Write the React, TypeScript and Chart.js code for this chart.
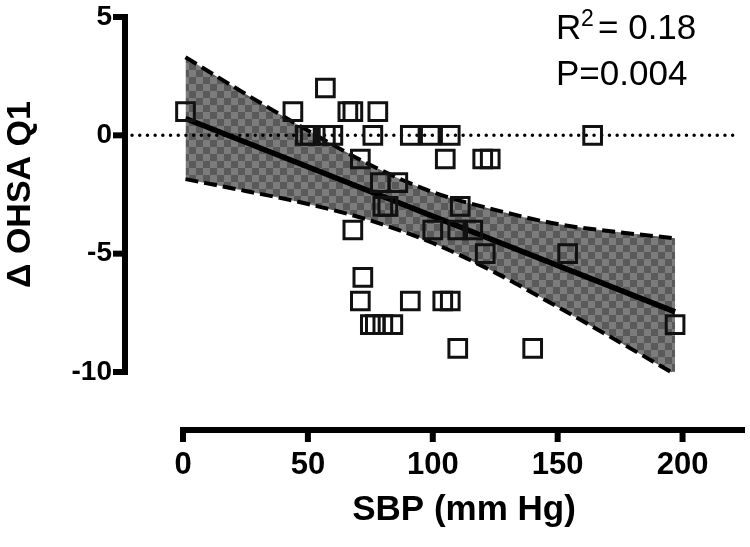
import React, { useEffect, useRef } from "react";
import { Chart, registerables } from "chart.js";

Chart.register(...registerables);

// ---- data ----
const sbpValues = [
  1, 44, 66, 68, 78,
  57,
  49, 51, 57, 60, 76, 91, 99, 107, 164,
  71, 105, 120, 123,
  79, 86,
  80, 82, 111,
  68, 100, 110, 116,
  121, 154,
  72,
  71, 91, 104, 107,
  75, 77, 80, 84, 197,
  110, 140,
];
const ohsaValues = [
  1, 1, 1, 1, 1,
  2,
  0, 0, 0, 0, 0, 0, 0, 0, 0,
  -1, -1, -1, -1,
  -2, -2,
  -3, -3, -3,
  -4, -4, -4, -4,
  -5, -5,
  -6,
  -7, -7, -7, -7,
  -8, -8, -8, -8, -8,
  -9, -9,
];

const fitX = [1, 197];
const fitY = [0.71, -7.46];

const bandX = [1, 25, 50, 75, 100, 125, 150, 175, 197];
const bandUpper = [3.3, 1.75, 0.2, -1.25, -2.4, -3.15, -3.75, -4.1, -4.35];
const bandLower = [-1.85, -2.35, -2.9, -3.6, -4.55, -5.8, -7.25, -8.75, -10.1];

const zeroLineX = [-20.4, 223];
const zeroLineY = [0, 0];

const xTicks = [0, 50, 100, 150, 200];
const yTicks = [-10, -5, 0, 5];

const xTitle = "SBP (mm Hg)";
const yTitle = "\u0394 OHSA Q1";
const r2Text = "0.18";
const pText = "P=0.004";

const FONT = "'Liberation Sans', Arial, Helvetica, sans-serif";

function makePattern(): CanvasPattern | string {
  const c = document.createElement("canvas");
  const cell = 7;
  c.width = cell * 2;
  c.height = cell * 2;
  const g = c.getContext("2d");
  if (!g) return "#6a6a6a";
  g.fillStyle = "#7c7c7c";
  g.fillRect(0, 0, cell * 2, cell * 2);
  g.fillStyle = "#5a5a5a";
  g.fillRect(0, 0, cell, cell);
  g.fillRect(cell, cell, cell, cell);
  const p = g.createPattern(c, "repeat");
  return p || "#6a6a6a";
}

const offsetAxesPlugin = {
  id: "offsetAxes",
  afterDraw(chart: any) {
    const { ctx, chartArea, scales } = chart;
    const x = scales.x;
    const y = scales.y;
    const axisX = chartArea.left - 58;
    const axisY = chartArea.bottom + 58;
    ctx.save();
    ctx.strokeStyle = "#000";
    ctx.lineCap = "butt";
    // y axis line
    ctx.lineWidth = 6;
    const yTop = y.getPixelForValue(yTicks[yTicks.length - 1]);
    const yBot = y.getPixelForValue(yTicks[0]);
    ctx.beginPath();
    ctx.moveTo(axisX, yTop - 3);
    ctx.lineTo(axisX, yBot + 3);
    ctx.stroke();
    for (const v of yTicks) {
      const py = y.getPixelForValue(v);
      ctx.beginPath();
      ctx.moveTo(axisX - 12, py);
      ctx.lineTo(axisX, py);
      ctx.stroke();
    }
    // x axis line
    const xLeft = x.getPixelForValue(xTicks[0]);
    ctx.beginPath();
    ctx.moveTo(xLeft - 3, axisY);
    ctx.lineTo(chartArea.right, axisY);
    ctx.stroke();
    for (const v of xTicks) {
      const px = x.getPixelForValue(v);
      ctx.beginPath();
      ctx.moveTo(px, axisY);
      ctx.lineTo(px, axisY + 12);
      ctx.stroke();
    }
    // statistics annotation
    ctx.fillStyle = "#000";
    ctx.textBaseline = "alphabetic";
    ctx.textAlign = "left";
    ctx.font = `35px ${FONT}`;
    ctx.fillText("R", 556, 39);
    ctx.font = `23px ${FONT}`;
    ctx.fillText("2", 581, 26);
    ctx.font = `35px ${FONT}`;
    ctx.fillText("= " + r2Text, 598, 39);
    ctx.fillText(pText, 556, 85);
    ctx.restore();
  },
};

export default function App() {
  const canvasRef = useRef<HTMLCanvasElement | null>(null);

  useEffect(() => {
    document.body.style.margin = "0";
    const canvas = canvasRef.current;
    if (!canvas) return;
    const pattern = makePattern();

    const points = sbpValues.map((v, i) => ({ x: v, y: ohsaValues[i] }));
    const fit = fitX.map((v, i) => ({ x: v, y: fitY[i] }));
    const upper = bandX.map((v, i) => ({ x: v, y: bandUpper[i] }));
    const lower = bandX.map((v, i) => ({ x: v, y: bandLower[i] }));
    const zero = zeroLineX.map((v, i) => ({ x: v, y: zeroLineY[i] }));

    const chart = new Chart(canvas, {
      type: "scatter",
      data: {
        datasets: [
          {
            label: "data",
            data: points,
            pointStyle: "rect",
            pointRadius: 12.5,
            pointHoverRadius: 12.5,
            pointBorderWidth: 3,
            borderColor: "#111",
            backgroundColor: "rgba(0,0,0,0)",
            order: 1,
            clip: false,
          } as any,
          {
            label: "fit",
            data: fit,
            showLine: true,
            borderColor: "#000",
            borderWidth: 5.5,
            pointRadius: 0,
            order: 2,
            clip: false,
          } as any,
          {
            label: "upper",
            data: upper,
            showLine: true,
            borderColor: "#000",
            borderWidth: 4,
            borderDash: [13, 6],
            pointRadius: 0,
            cubicInterpolationMode: "monotone",
            fill: "+1",
            backgroundColor: pattern,
            order: 3,
            clip: false,
          } as any,
          {
            label: "lower",
            data: lower,
            showLine: true,
            borderColor: "#000",
            borderWidth: 4,
            borderDash: [13, 6],
            pointRadius: 0,
            cubicInterpolationMode: "monotone",
            fill: false,
            order: 3,
            clip: false,
          } as any,
          {
            label: "zero",
            data: zero,
            showLine: true,
            borderColor: "#000",
            borderWidth: 3.5,
            borderDash: [0, 7.7],
            borderCapStyle: "round",
            pointRadius: 0,
            order: 4,
            clip: false,
          } as any,
        ],
      },
      options: {
        animation: false,
        responsive: false,
        devicePixelRatio: 1,
        layout: { autoPadding: false, padding: { left: 0, top: 17, right: 5, bottom: 0 } },
        plugins: {
          legend: { display: false },
          tooltip: { enabled: false },
          filler: { drawTime: "beforeDatasetsDraw" },
        } as any,
        scales: {
          x: {
            type: "linear",
            min: 0,
            max: 225,
            grid: { display: false, drawTicks: true, tickLength: 75 },
            border: { display: false },
            afterBuildTicks: (scale: any) => {
              scale.ticks = xTicks.map((v) => ({ value: v }));
            },
            afterFit: (scale: any) => {
              scale.height = 175;
              scale.paddingLeft = 0;
              scale.paddingRight = 0;
            },
            ticks: {
              color: "#000",
              padding: 0,
              maxRotation: 0,
              font: { family: FONT, size: 31, weight: "bold" },
            },
            title: {
              display: true,
              text: xTitle,
              color: "#000",
              padding: { top: 0, bottom: 16 },
              font: { family: FONT, size: 35, weight: "bold" },
            },
          },
          y: {
            type: "linear",
            min: -10,
            max: 5,
            grid: { display: false, drawTicks: true, tickLength: 71 },
            border: { display: false },
            afterBuildTicks: (scale: any) => {
              scale.ticks = yTicks.map((v) => ({ value: v }));
            },
            afterFit: (scale: any) => {
              scale.width = 183;
              scale.paddingTop = 0;
              scale.paddingBottom = 0;
            },
            ticks: {
              color: "#000",
              padding: 0,
              font: { family: FONT, size: 28, weight: "bold" },
            },
            title: {
              display: true,
              text: yTitle,
              color: "#000",
              padding: { top: 0, bottom: 0 },
              font: { family: FONT, size: 34, weight: "bold" },
            },
          },
        } as any,
      },
      plugins: [offsetAxesPlugin],
    });

    return () => {
      chart.destroy();
    };
  }, []);

  return (
    <div style={{ width: 750, height: 547 }}>
      <canvas ref={canvasRef} width={750} height={547} style={{ width: 750, height: 547, display: "block" }} />
    </div>
  );
}
